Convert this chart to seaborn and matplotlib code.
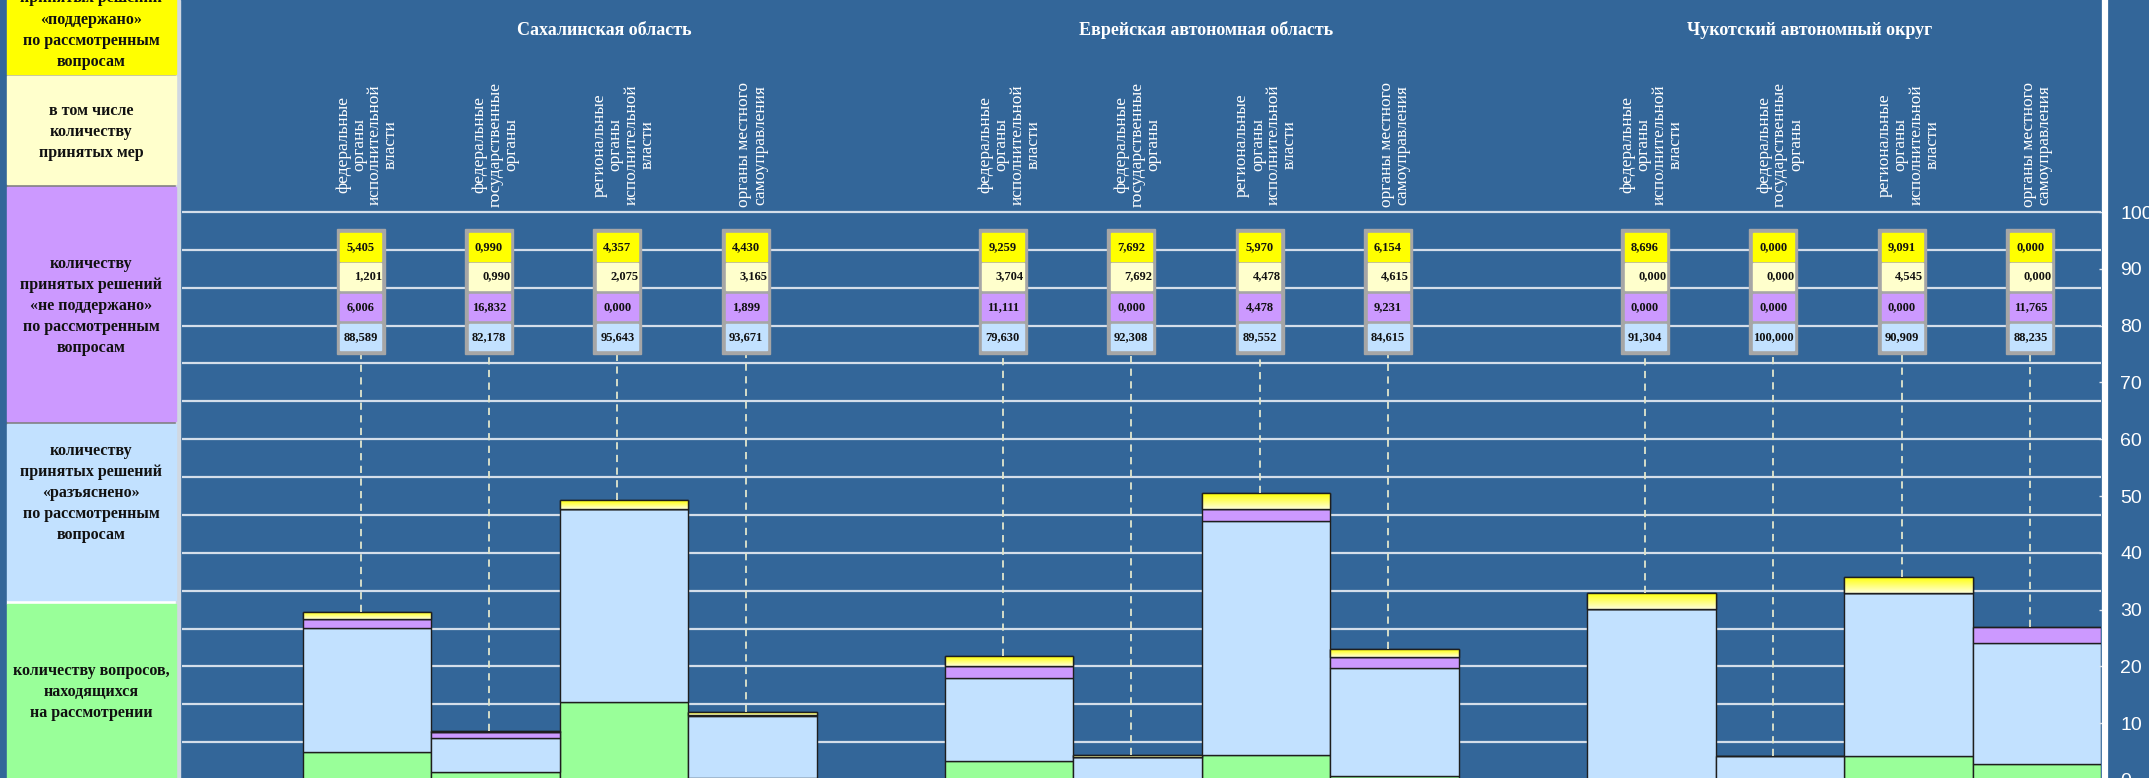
import numpy as np
import pandas as pd
import seaborn as sns
import matplotlib.pyplot as plt
from matplotlib.patches import Rectangle
from matplotlib.colors import LinearSegmentedColormap

REGIONS = ['Сахалинская область', 'Еврейская автономная область', 'Чукотский автономный округ']
BODIES = ['федеральные\nорганы\nисполнительной\nвласти',
          'федеральные\nгосударственные\nорганы',
          'региональные\nорганы\nисполнительной\nвласти',
          'органы местного\nсамоуправления']

# share of all questions in the region, %
pending = [4.9, 1.4, 13.7, 0.3, 3.3, 0.0, 4.4, 0.7, 0.0, 0.0, 4.2, 2.8]
decided = [24.7, 7.2, 35.6, 11.7, 18.5, 4.4, 46.1, 22.4, 32.9, 4.2, 31.5, 24.1]

# structure of the decisions taken, %
supported = [5.405, 0.990, 4.357, 4.430, 9.259, 7.692, 5.970, 6.154, 8.696, 0.000, 9.091, 0.000]
measures = [1.201, 0.990, 2.075, 3.165, 3.704, 7.692, 4.478, 4.615, 0.000, 0.000, 4.545, 0.000]
not_supported = [6.006, 16.832, 0.000, 1.899, 11.111, 0.000, 4.478, 9.231, 0.000, 0.000, 0.000, 11.765]
explained = [88.589, 82.178, 95.643, 93.671, 79.630, 92.308, 89.552, 84.615, 91.304, 100.000, 90.909, 88.235]

LEGEND = [
    ('количеству\nпринятых решений\n«поддержано»\nпо рассмотренным\nвопросам', '#FFFF00'),
    ('в том числе\nколичеству\nпринятых мер', '#FFFFCC'),
    ('количеству\nпринятых решений\n«не поддержано»\nпо рассмотренным\nвопросам', '#CC99FF'),
    ('количеству\nпринятых решений\n«разъяснено»\nпо рассмотренным\nвопросам', '#C2E1FF'),
    ('количеству вопросов,\nнаходящихся\nна рассмотрении', '#99FF99'),
]

BG = '#336699'
COLORS = {'supported': '#FFFF00', 'not_supported': '#CC99FF',
          'explained': '#C2E1FF', 'pending': '#99FF99'}

sns.set_theme(style='white')
plt.rcParams['font.family'] = ['Liberation Serif', 'DejaVu Serif']

pos = [g * 5 + c for g in range(3) for c in range(4)]
rows = []
for i, p in enumerate(pos):
    rows.append((p, 'pending', pending[i]))
    rows.append((p, 'explained', decided[i] * explained[i] / 100))
    rows.append((p, 'not_supported', decided[i] * not_supported[i] / 100))
    rows.append((p, 'supported', decided[i] * supported[i] / 100))
df = pd.DataFrame(rows, columns=['pos', 'segment', 'value'])

W, H = 2149, 778
fig = plt.figure(figsize=(W / 100, H / 100), dpi=100, facecolor=BG)

# left legend column
axl = fig.add_axes([0, 0, 182 / W, 1])
axl.set_xlim(0, 182)
axl.set_ylim(H, 0)
axl.axis('off')
axl.set_facecolor(BG)
bands = [(-80, 74), (76, 184), (187, 421), (424, 600), (604, 790)]
centers = [19.5, 132, 306, 493, 692]
axl.add_patch(Rectangle((7, 74), 170, 2, color='#b0b0b0'))
axl.add_patch(Rectangle((7, 184), 170, 3, color='#808080'))
axl.add_patch(Rectangle((7, 421), 170, 3, color='#808080'))
axl.add_patch(Rectangle((7, 600), 170, 4, color='white'))
axl.add_patch(Rectangle((176, 0), 4, H, color='#d0d8e2'))
for (txt, col), (y0, y1), yc in zip(LEGEND, bands, centers):
    axl.add_patch(Rectangle((7, y0), 169, y1 - y0, color=col))
    axl.text(91, yc, txt, ha='center', va='center', fontsize=11.5, fontweight='bold',
             color='#111111', linespacing=1.42, multialignment='center')

# main chart
ax = fig.add_axes([182 / W, -2 / H, 1919 / W, 780 / H])
ax.set_facecolor(BG)
sns.histplot(data=df, x='pos', weights='value', hue='segment',
             hue_order=['supported', 'not_supported', 'explained', 'pending'],
             multiple='stack', discrete=True, shrink=1.0, palette=COLORS,
             edgecolor='#1e1e1e', linewidth=1.0, alpha=1, legend=False, ax=ax)

# gradient on the "supported" segments
grad = LinearSegmentedColormap.from_list('yel', ['#FFFFD8', '#FFFF00'])
for patch in list(ax.patches):
    fc = patch.get_facecolor()
    if fc[0] > 0.99 and fc[1] > 0.99 and fc[2] < 0.01 and patch.get_height() > 0:
        x0, y0 = patch.get_x(), patch.get_y()
        w, h = patch.get_width(), patch.get_height()
        im = ax.imshow(np.linspace(0, 1, 64).reshape(-1, 1), cmap=grad, aspect='auto',
                       origin='lower', extent=(x0, x0 + w, y0, y0 + h),
                       zorder=patch.get_zorder() + 0.01)
        im.set_clip_path(patch)
        ax.add_patch(Rectangle((x0, y0), w, h, fill=False, edgecolor='#1e1e1e',
                               lw=1.0, zorder=patch.get_zorder() + 0.02))

ymax = 780 / 5.68
ax.set_xlim(-1.44, 13.5)
ax.set_ylim(0, ymax)
ax.set_yticks(np.arange(16) * 100 / 15)
ax.set_yticklabels([])
ax.set_xticks([])
ax.set_xlabel('')
ax.set_ylabel('')
ax.tick_params(length=0)
ax.set_axisbelow(True)
ax.grid(axis='y', color='#d4deea', lw=1.6)
ax.grid(axis='x', visible=False)
for s in ['top', 'bottom', 'left', 'right']:
    ax.spines[s].set_visible(False)

# annotation boxes with the percentages
fmt = lambda v: f'{v:.3f}'.replace('.', ',')
for i, p in enumerate(pos):
    xc = p - 0.05
    top = pending[i] + decided[i]
    ax.vlines(xc, top, 75.0, colors='#e2e6cc', lw=1.3, linestyles=(0, (4, 3)), zorder=2)
    ax.add_patch(Rectangle((xc - 0.187, 75.0), 0.374, 22.0, color='#a6a6a6', zorder=5))
    cells = [(91.4, 96.3, '#FFFF00', supported[i], 'center'),
             (86.3, 91.0, '#FFFFCC', measures[i], 'right'),
             (81.0, 85.6, '#CC99FF', not_supported[i], 'center'),
             (75.7, 80.3, '#C2E1FF', explained[i], 'center')]
    for y0, y1, col, val, ha in cells:
        ax.add_patch(Rectangle((xc - 0.158, y0), 0.32, y1 - y0, color=col, zorder=6))
        tx = xc + 0.165 if ha == 'right' else xc
        ax.text(tx, (y0 + y1) / 2, fmt(val), ha=ha, va='center', fontsize=9,
                fontweight='bold', color='#111111', zorder=7)
    ax.text(p, 111.8, BODIES[i % 4], rotation=90, ha='center', va='center',
            multialignment='center', fontsize=12.5, color='white', linespacing=1.0)

for g, (name, tx) in enumerate(zip(REGIONS, [1.85, 6.53, 11.23])):
    ax.text(tx, 132.0, name, ha='center', va='center', fontsize=13,
            fontweight='bold', color='white')

# right percentage axis
ax2 = ax.twinx()
ax2.set_ylim(0, ymax)
ax2.set_yticks(range(0, 101, 10))
ax2.set_yticklabels([str(v) for v in range(0, 101, 10)])
ax2.tick_params(axis='y', direction='in', length=4, width=1, color='#dde4ee', pad=11,
                labelcolor='white', labelsize=14, labelfontfamily='Liberation Sans')
ax2.grid(False)
for s in ['top', 'bottom', 'left']:
    ax2.spines[s].set_visible(False)
ax2.spines['right'].set_color('white')
ax2.spines['right'].set_linewidth(4.5)
ax2.spines['right'].set_position(('outward', 3))

fig.savefig('out.png', dpi=100, facecolor=BG)
